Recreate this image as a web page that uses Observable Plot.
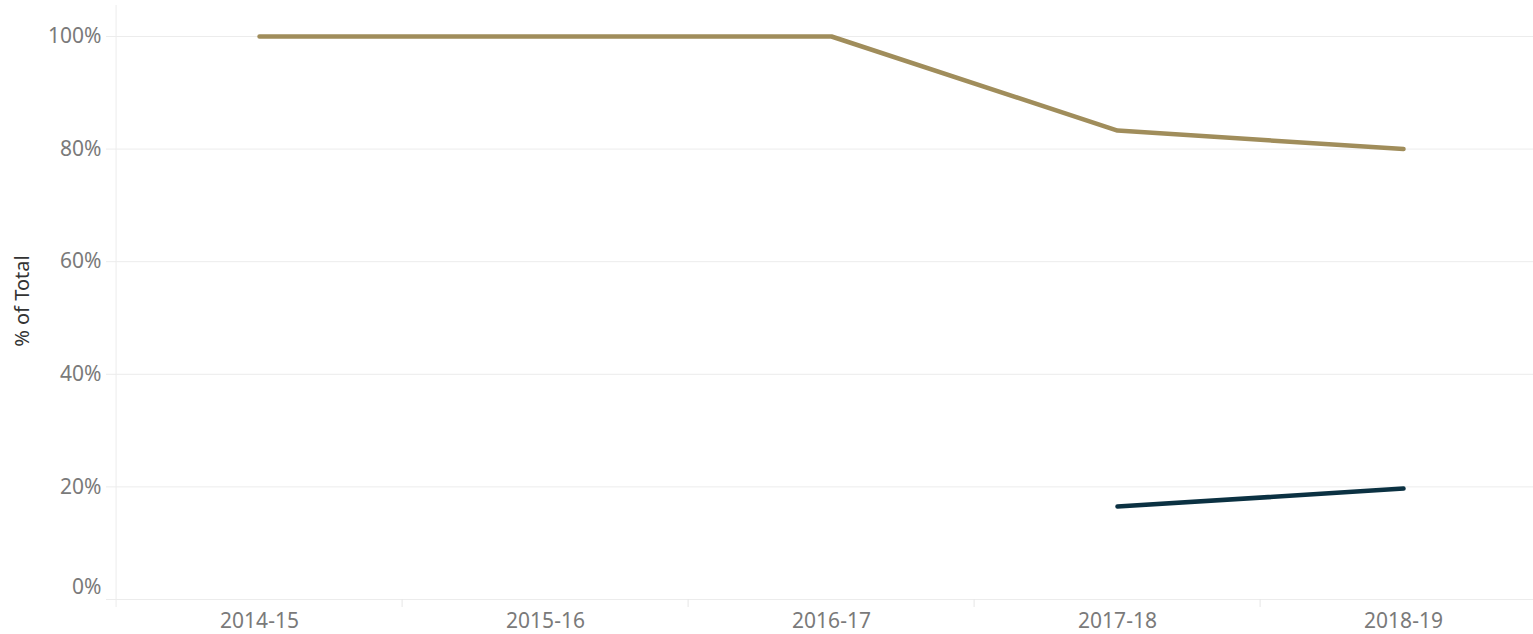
<!DOCTYPE html>
<html>
<head>
<meta charset="utf-8">
<script src="https://cdn.jsdelivr.net/npm/d3@7"></script>
<script src="https://cdn.jsdelivr.net/npm/@observablehq/plot@0.6"></script>
<style>
  html, body { margin: 0; padding: 0; background: #fff; overflow: hidden; }
  #chart svg { display: block; overflow: hidden; }
</style>
</head>
<body>
<div id="chart"></div>
<script>
const years = ["2014-15", "2015-16", "2016-17", "2017-18", "2018-19"];
const goldSeries = [100, 100, 100, 83.3, 80];
const navySeries = [null, null, null, 16.5, 19.7];
const yTicks = [0, 20, 40, 60, 80, 100];
const yLabel = "% of Total";

const rows = [];
years.forEach((y, i) => {
  if (goldSeries[i] != null) rows.push({year: y, value: goldSeries[i], series: "A"});
});
years.forEach((y, i) => {
  if (navySeries[i] != null) rows.push({year: y, value: navySeries[i], series: "B"});
});

const W = 1533, H = 634;
const left = 114;
const step = 286.8;
const bw = step;
const font = "'Noto Sans', sans-serif";

const chart = Plot.plot({
  width: W,
  height: H,
  marginLeft: left,
  marginRight: 0,
  marginTop: 5,
  marginBottom: 35,
  style: {fontFamily: font, background: "#fff"},
  x: {type: "band", domain: years, range: [left, left + step * years.length], padding: 0},
  y: {domain: [0, 100], range: [599, 36]},
  color: {domain: ["A", "B"], range: ["#A08D5B", "#0B3142"]},
  marks: [
    Plot.gridY(yTicks, {stroke: "#ececec", strokeOpacity: 1, strokeWidth: 1}),
    Plot.ruleX(years.slice(0, 1), {x: d => d, dx: -bw / 2, stroke: "#ececec", strokeWidth: 1, insetBottom: -8}),
    Plot.ruleX(years.slice(1), {x: d => d, dx: -bw / 2, y1: 0, y2: 0, insetBottom: -8, stroke: "#e6e6e6"}),
    Plot.axisY(yTicks, {
      tickSize: 8,
      stroke: "#ececec",
      text: null,
      label: null
    }),
    Plot.axisY(yTicks.slice(1), {
      tickFormat: d => d + "%",
      tickSize: 0,
      tickPadding: 13,
      fontSize: 21,
      fill: "#7a7a7a",
      label: null
    }),
    Plot.axisY(yTicks.slice(0, 1), {
      tickFormat: d => d + "%",
      tickSize: 0,
      tickPadding: 13,
      dy: -12,
      fontSize: 21,
      fill: "#7a7a7a",
      label: null
    }),
    Plot.text([yLabel], {
      frameAnchor: "left",
      textAnchor: "middle",
      dx: -left + 22,
      y: 53,
      rotate: -90,
      fontSize: 20,
      fill: "#333",
      text: d => d
    }),
    Plot.axisX({
      tickSize: 0,
      tickPadding: 14,
      fontSize: 21,
      fill: "#7a7a7a",
      label: null
    }),
    Plot.line(rows, {
      x: "year",
      y: "value",
      z: "series",
      stroke: "series",
      strokeWidth: 4.5,
      strokeLinecap: "round",
      strokeLinejoin: "round"
    })
  ]
});
document.getElementById("chart").appendChild(chart);
</script>
</body>
</html>
